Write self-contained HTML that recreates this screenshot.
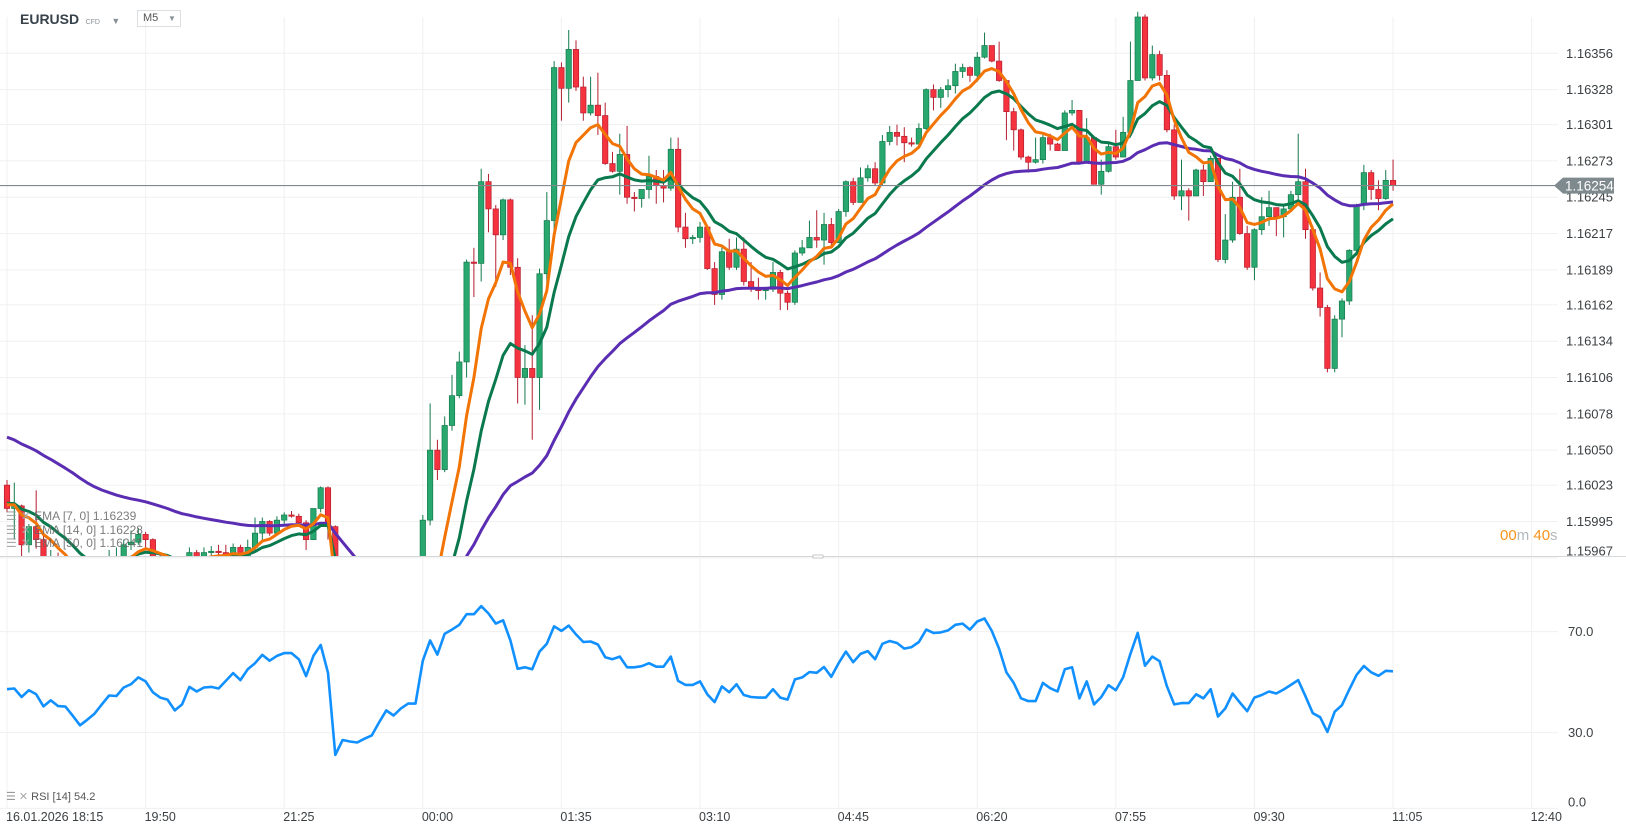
<!DOCTYPE html>
<html><head><meta charset="utf-8">
<style>
html,body{margin:0;padding:0;background:#fff;}
body{width:1626px;height:831px;overflow:hidden;position:relative;font-family:"Liberation Sans",sans-serif;}
svg{position:absolute;left:0;top:0;}
.hdr{position:absolute;}
</style></head>
<body>
<svg id="chart" width="1626" height="831">
  <defs>
    <clipPath id="mainClip"><rect x="0" y="0" width="1558" height="556"/></clipPath>
    <clipPath id="rsiClip"><rect x="0" y="557" width="1558" height="252"/></clipPath>
  </defs>
  <g id="grid"></g>
  <g id="candles" clip-path="url(#mainClip)"></g>
  <g id="emas" clip-path="url(#mainClip)"></g>
  <g id="rsi" clip-path="url(#rsiClip)"></g>
  <g id="axes"></g>
</svg>

<div class="hdr" style="left:20px;top:10px;height:18px;line-height:18px;">
  <span style="font-size:14px;font-weight:bold;color:#37424a;">EURUSD</span>
  <span style="font-size:7px;color:#8a9196;margin-left:2px;">CFD</span>
  <span style="font-size:9px;color:#8a9196;margin-left:7px;">▼</span>
</div>
<div class="hdr" style="left:137px;top:10px;width:42px;height:15px;border:1px solid #dcdfe2;font-size:11px;color:#555;line-height:15px;">
  <span style="margin-left:5px;">M5</span>
  <span style="position:absolute;left:30px;top:0;font-size:8px;color:#8a9196;">▼</span>
</div>

<div class="hdr" style="left:6px;top:510px;font-size:12px;color:#666;line-height:13.5px;opacity:0.85;">
  <div><span style="color:#999;">☰</span><span style="color:#aaa;margin-left:4px;">✕</span> <span>EMA [7, 0] 1.16239</span></div>
  <div><span style="color:#999;">☰</span><span style="color:#aaa;margin-left:4px;">✕</span> <span>EMA [14, 0] 1.16228</span></div>
  <div><span style="color:#999;">☰</span><span style="color:#aaa;margin-left:4px;">✕</span> <span>EMA [50, 0] 1.16241</span></div>
</div>
<div class="hdr" style="left:6px;top:790px;font-size:11px;color:#555;">
  <span style="color:#999;">☰</span><span style="color:#aaa;margin-left:3px;">✕</span> RSI [14] 54.2
</div>
<div class="hdr" style="left:1500px;top:527px;font-size:15px;color:#b3b8bc;">
  <span style="color:#f7941d;">00</span>m <span style="color:#f7941d;">40</span>s
</div>

<script>
// ===== DATA =====
const timeLabels = ['16.01.2026 18:15','19:50','21:25','00:00','01:35','03:10','04:45','06:20','07:55','09:30','11:05','12:40'];
const priceTicks = [1.16356,1.16328,1.16301,1.16273,1.16245,1.16217,1.16189,1.16162,1.16134,1.16106,1.16078,1.16050,1.16023,1.15995,1.15967];
const rsiTicks = [70,30,0];
const firstOpen = 1.16023;
const closes = [1.16005,1.16007,1.15977,1.15991,1.15981,1.15959,1.15968,1.15956,1.15954,1.15942,
1.15931,1.15937,1.15946,1.15958,1.15968,1.15968,1.15977,1.15979,1.15985,1.15981,
1.15968,1.15964,1.15961,1.15950,1.15956,1.15971,1.15967,1.15971,1.15972,1.15971,
1.15969,1.15975,1.15968,1.15975,1.15986,1.15995,1.15986,1.15996,1.16000,1.15999,
1.15994,1.15981,1.16005,1.16021,1.15991,1.15800,1.15810,1.15805,1.15800,1.15808,
1.15815,1.15830,1.15845,1.15838,1.15850,1.15858,1.15860,1.15996,1.16050,1.16035,
1.16069,1.16092,1.16118,1.16195,1.16194,1.16257,1.16236,1.16216,1.16243,1.16191,
1.16106,1.16113,1.16106,1.16186,1.16227,1.16345,1.16329,1.16359,1.16330,1.16310,
1.16316,1.16308,1.16271,1.16265,1.16278,1.16245,1.16244,1.16251,1.16261,1.16254,
1.16252,1.16282,1.16222,1.16213,1.16214,1.16222,1.16190,1.16170,1.16203,1.16191,
1.16205,1.16180,1.16175,1.16173,1.16174,1.16187,1.16171,1.16164,1.16202,1.16206,
1.16214,1.16212,1.16224,1.16210,1.16234,1.16257,1.16241,1.16260,1.16267,1.16256,
1.16288,1.16295,1.16292,1.16287,1.16286,1.16298,1.16328,1.16322,1.16328,1.16331,
1.16342,1.16345,1.16339,1.16353,1.16362,1.16350,1.16335,1.16311,1.16297,1.16276,
1.16272,1.16274,1.16291,1.16286,1.16281,1.16310,1.16312,1.16272,1.16291,1.16255,
1.16265,1.16284,1.16276,1.16295,1.16335,1.16384,1.16337,1.16355,1.16339,1.16297,
1.16246,1.16250,1.16246,1.16266,1.16257,1.16275,1.16197,1.16212,1.16245,1.16217,
1.16191,1.16220,1.16230,1.16237,1.16230,1.16236,1.16247,1.16257,1.16220,1.16175,
1.16160,1.16113,1.16151,1.16165,1.16204,1.16239,1.16264,1.16251,1.16244,1.16258,
1.16254];
const highs = [1.16027,1.16025,1.16008,1.15993,1.16019,1.15985,1.15973,1.15971,1.15961,1.15958,
1.15944,1.15942,1.15950,1.15961,1.15973,1.15975,1.15981,1.15988,1.15990,1.15987,
1.15982,1.15971,1.15967,1.15965,1.15959,1.15975,1.15973,1.15975,1.15976,1.15977,
1.15977,1.15978,1.15977,1.15981,1.15998,1.15998,1.15996,1.15999,1.16002,1.16003,
1.16001,1.15996,1.16005,1.16022,1.16022,1.15992,1.15815,1.15815,1.15810,1.15812,
1.15820,1.15835,1.15850,1.15850,1.15855,1.15862,1.15866,1.16000,1.16086,1.16058,
1.16076,1.16108,1.16126,1.16197,1.16206,1.16267,1.16263,1.16239,1.16244,1.16244,
1.16198,1.16131,1.16154,1.16190,1.16249,1.16350,1.16349,1.16374,1.16366,1.16338,
1.16338,1.16341,1.16318,1.16280,1.16294,1.16300,1.16249,1.16251,1.16277,1.16266,
1.16266,1.16291,1.16291,1.16233,1.16216,1.16226,1.16215,1.16195,1.16207,1.16213,
1.16214,1.16214,1.16195,1.16183,1.16176,1.16195,1.16189,1.16173,1.16204,1.16212,
1.16227,1.16235,1.16233,1.16229,1.16236,1.16258,1.16260,1.16268,1.16270,1.16272,
1.16293,1.16300,1.16301,1.16299,1.16291,1.16302,1.16329,1.16332,1.16330,1.16336,
1.16348,1.16348,1.16346,1.16357,1.16372,1.16362,1.16365,1.16335,1.16314,1.16298,
1.16277,1.16291,1.16293,1.16294,1.16287,1.16312,1.16320,1.16312,1.16306,1.16291,
1.16274,1.16286,1.16297,1.16307,1.16365,1.16388,1.16386,1.16362,1.16358,1.16343,
1.16301,1.16274,1.16252,1.16267,1.16270,1.16277,1.16275,1.16232,1.16257,1.16267,
1.16223,1.16221,1.16245,1.16250,1.16234,1.16239,1.16250,1.16294,1.16267,1.16223,
1.16187,1.16162,1.16154,1.16167,1.16205,1.16240,1.16270,1.16266,1.16258,1.16266,
1.16274];
const lows = [1.16002,1.15981,1.15965,1.15971,1.15974,1.15954,1.15957,1.15950,1.15946,1.15936,
1.15925,1.15927,1.15934,1.15944,1.15954,1.15961,1.15965,1.15973,1.15977,1.15974,
1.15965,1.15959,1.15956,1.15946,1.15946,1.15954,1.15964,1.15965,1.15968,1.15967,
1.15965,1.15967,1.15965,1.15967,1.15973,1.15981,1.15984,1.15988,1.15992,1.15998,
1.15991,1.15973,1.15981,1.16002,1.15981,1.15790,1.15798,1.15795,1.15792,1.15795,
1.15803,1.15810,1.15825,1.15830,1.15835,1.15845,1.15850,1.15855,1.15992,1.16027,
1.16033,1.16065,1.16090,1.16106,1.16168,1.16180,1.16218,1.16176,1.16212,1.16185,
1.16086,1.16085,1.16058,1.16081,1.16173,1.16212,1.16304,1.16318,1.16327,1.16304,
1.16308,1.16293,1.16270,1.16264,1.16247,1.16240,1.16234,1.16237,1.16244,1.16240,
1.16241,1.16250,1.16218,1.16206,1.16209,1.16210,1.16189,1.16162,1.16166,1.16189,
1.16189,1.16177,1.16172,1.16166,1.16166,1.16172,1.16158,1.16158,1.16162,1.16200,
1.16207,1.16206,1.16193,1.16206,1.16227,1.16230,1.16239,1.16241,1.16257,1.16254,
1.16254,1.16285,1.16285,1.16272,1.16284,1.16287,1.16297,1.16312,1.16314,1.16322,
1.16325,1.16337,1.16334,1.16334,1.16352,1.16349,1.16334,1.16289,1.16281,1.16274,
1.16264,1.16271,1.16271,1.16281,1.16281,1.16281,1.16308,1.16271,1.16272,1.16255,
1.16247,1.16264,1.16274,1.16279,1.16291,1.16335,1.16335,1.16335,1.16335,1.16295,
1.16243,1.16235,1.16227,1.16247,1.16246,1.16257,1.16195,1.16194,1.16210,1.16216,
1.16189,1.16181,1.16216,1.16223,1.16215,1.16214,1.16235,1.16243,1.16213,1.16173,
1.16153,1.16110,1.16110,1.16137,1.16162,1.16200,1.16235,1.16243,1.16235,1.16243,
1.16250];
const emaSeeds = [1.16008, 1.16009, 1.16060];
const emaPeriods = [7, 14, 50];
const rsiValues = [47.2,47.5,44.1,46.8,45.2,40.4,42.8,40.5,40.3,36.7,
32.9,35.1,37.5,41.2,44.7,44.5,47.9,49.2,51.9,50.3,
46.0,43.9,43.1,38.8,41.2,48.1,46.3,47.9,48.1,47.5,
50.5,53.6,50.8,55.1,57.5,60.8,58.5,60.4,61.5,61.5,
59.1,52.4,60.4,64.7,53.7,21.2,27.1,26.5,26.1,27.6,
28.9,34.0,38.8,36.8,39.6,41.5,41.5,58.5,66.5,60.9,
69.2,70.8,72.7,76.9,76.9,80.1,77.2,73.2,74.5,66.5,
55.3,55.9,55.1,62.1,65.2,72.1,70.3,72.4,68.9,65.9,
66.1,64.9,59.9,59.1,60.1,55.9,55.9,56.3,57.5,56.1,
56.1,60.1,50.5,48.9,48.9,50.3,45.2,42.1,48.3,46.0,
49.2,44.9,44.1,43.9,43.9,47.2,43.9,43.1,51.1,51.9,
54.0,53.7,56.0,52.1,57.5,62.1,57.9,61.2,62.3,59.1,
65.2,66.3,65.5,63.3,63.9,65.9,70.8,69.5,69.7,70.5,
72.7,73.2,70.8,74.0,75.2,70.3,63.2,53.9,49.7,43.6,
42.5,42.5,49.7,47.6,46.3,55.1,55.9,43.6,50.3,41.2,
44.1,48.8,46.8,51.9,61.2,69.5,56.5,60.1,58.3,48.4,
41.2,41.7,41.7,45.2,43.6,47.2,36.4,39.6,45.5,41.9,
38.5,43.9,44.9,46.3,45.5,47.1,48.9,50.8,44.4,37.7,
36.1,30.3,38.3,40.9,47.1,52.9,56.4,53.9,52.5,54.5,
54.3];
const currentPrice = 1.16254;

// ===== SCALES =====
const NS = 'http://www.w3.org/2000/svg';
const xOf = i => 7 + i * 7.295;
const yP = p => 53.3 + (1.16356 - p) * 129682;
const yR = v => 808.4 - v * 2.525;
function mk(parent, tag, attrs) {
  const el = document.createElementNS(NS, tag);
  for (const k in attrs) el.setAttribute(k, attrs[k]);
  parent.appendChild(el);
  return el;
}
const grid = document.getElementById('grid');
const axes = document.getElementById('axes');

priceTicks.forEach((p, k) => {
  const y = yP(p);
  const gl = mk(grid, 'line', {x1: 0, x2: 1558, y1: y, y2: y, stroke: '#f0f0f0', 'stroke-width': 1});
  
  
  const ty = Math.min(y, 551);
  const t = mk(axes, 'text', {x: 1566, y: ty + 4.5, 'font-size': 13, fill: '#3c4043', 'font-family': 'Liberation Sans, sans-serif'});
  t.textContent = p.toFixed(5);
  
  
});
rsiTicks.forEach(v => {
  const y = yR(v);
  const gl = mk(grid, 'line', {x1: 0, x2: 1558, y1: y, y2: y, stroke: '#f0f0f0', 'stroke-width': 1});
  
  
  const t = mk(axes, 'text', {x: 1568, y: Math.min(y, 802) + 4.5, 'font-size': 13, fill: '#3c4043', 'font-family': 'Liberation Sans, sans-serif'});
  t.textContent = v.toFixed(1);
  
  
});
timeLabels.forEach((lab, k) => {
  const x = xOf(k * 19);
  const gl = mk(grid, 'line', {x1: x, x2: x, y1: 17, y2: 808, stroke: '#f0f0f0', 'stroke-width': 1});
  
  
  const t = mk(axes, 'text', {x: x - 1, y: 821, 'font-size': 12.5, fill: '#3c4043', 'font-family': 'Liberation Sans, sans-serif'});
  t.textContent = lab;
  
  
});
const sep = mk(axes, 'line', {x1: 0, x2: 1626, y1: 556.5, y2: 556.5, stroke: '#d5d8db', 'stroke-width': 1});


const handle = mk(axes, 'rect', {x: 813, y: 555, width: 10, height: 3, fill: '#fff', stroke: '#bbb', 'stroke-width': 0.8});



const cg = document.getElementById('candles');
closes.forEach((c, i) => {
  const o = i === 0 ? firstOpen : closes[i - 1];
  const up = c >= o;
  const x = xOf(i);
  const hi = Math.max(highs[i], o, c), lo = Math.min(lows[i], o, c);
  const g = mk(cg, 'g', {});
  
  
  mk(g, 'line', {x1: x, x2: x, y1: yP(hi), y2: yP(lo), stroke: up ? '#137a4c' : '#b51d2e', 'stroke-width': 1});
  const yt = yP(Math.max(o, c)), yb = yP(Math.min(o, c));
  mk(g, 'rect', {x: x - 2.7, y: yt, width: 5.4, height: Math.max(1.2, yb - yt), fill: up ? '#28a86f' : '#f5333f', stroke: up ? '#137a4c' : '#b51d2e', 'stroke-width': 0.7});
});

const eg = document.getElementById('emas');
const emaColors = ['#5a2db2', '#0a7a4e', '#f27405'];
[2, 1, 0].forEach(k => {
  const a = 2 / (emaPeriods[k] + 1);
  let e = emaSeeds[k];
  const pts = [];
  closes.forEach((c, i) => {
    if (i > 0) e = e + a * (c - e);
    pts.push(xOf(i).toFixed(1) + ',' + yP(e).toFixed(1));
  });
  const pl = mk(eg, 'polyline', {points: pts.join(' '), fill: 'none', stroke: emaColors[2 - k], 'stroke-width': 3, 'stroke-linejoin': 'round'});
  
  
});

const cy = yP(currentPrice);
const pline = mk(axes, 'line', {x1: 0, x2: 1555, y1: cy, y2: cy, stroke: '#80898e', 'stroke-width': 1.2});


const tag = mk(axes, 'path', {d: `M1554 ${cy} L1563 ${cy - 8} L1614 ${cy - 8} L1614 ${cy + 8} L1563 ${cy + 8} Z`, fill: '#7f8a8e'});


const tt = mk(axes, 'text', {x: 1565, y: cy + 5, 'font-size': 13.5, fill: '#fff', 'font-family': 'Liberation Sans, sans-serif'});
tt.textContent = currentPrice.toFixed(5);



const rg = document.getElementById('rsi');
const rpts = rsiValues.map((v, i) => xOf(i).toFixed(1) + ',' + yR(v).toFixed(1));
const rl = mk(rg, 'polyline', {points: rpts.join(' '), fill: 'none', stroke: '#1190ff', 'stroke-width': 2.6, 'stroke-linejoin': 'round'});


</script>
</body></html>
